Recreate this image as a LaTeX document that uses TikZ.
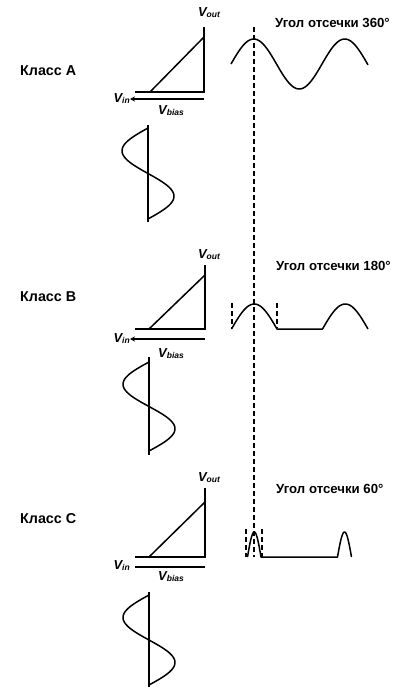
\documentclass[tikz,border=0pt]{standalone}
\usepackage{fontspec}
\setmainfont{Liberation Sans}
\usetikzlibrary{arrows.meta}

\newcommand{\vsub}[2]{#1\raisebox{-1pt}{\fontsize{8.5}{9}\selectfont #2}}

\tikzset{
  curve/.style={line width=1.5pt, line join=round},
  axis/.style={line width=1.5pt},
  marker/.style={line width=1.5pt, dash pattern=on 5pt off 3pt},
  vlabel/.style={font=\bfseries\itshape\fontsize{13}{13}\selectfont, inner sep=0pt},
  classlabel/.style={font=\bfseries\fontsize{14.3}{15}\selectfont, anchor=west, inner sep=0pt},
  anglelabel/.style={font=\bfseries\fontsize{13.2}{14}\selectfont, anchor=west, inner sep=0pt},
}

\begin{document}
\begin{tikzpicture}[x=1pt, y=-1pt, >=Stealth]
    % Параметры
    \def\amp{25}
    \def\period{91}
    \def\sAmp{26}

    \useasboundingbox (0,0) rectangle (405,699);

    % Класс A
    \node[classlabel] (clsA) at (20,71) {Класс A};
    \coordinate (A-top) at (204,27);
    \coordinate (A-org) at (204,92);
    \coordinate (A-left) at (135,92);
    \draw[axis] (A-top) -- (A-org) -- (A-left);
    \draw[axis] (150,92) -- (204,37);
    \node[vlabel] (A-vout) at (209,13) {\vsub{V}{out}};
    \node[vlabel, anchor=east] (A-vin) at (130,99) {\vsub{V}{in}};
    \draw[axis, -{Stealth[length=5pt, width=5pt]}] (204,99) -- (A-vin.east);
    \node[vlabel] (A-vbias) at (171,111) {\vsub{V}{bias}};
    \draw[axis] (148,125) -- (148,222);
    \draw[curve] plot[domain=128:219, samples=60] ({148-\sAmp*sin((\x-128)/\period*360)}, \x);
    \node[anglelabel] (angA) at (275,23) {Угол отсечки 360°};
    \draw[curve] plot[domain=231:368, samples=100] (\x, {64-\amp*sin((\x-231)/\period*360)});

    % Класс B
    \node[classlabel] (clsB) at (20,297) {Класс B};
    \coordinate (B-top) at (205,265);
    \coordinate (B-org) at (205,329);
    \coordinate (B-left) at (135,329);
    \draw[axis] (B-top) -- (B-org) -- (B-left);
    \draw[axis] (149,329) -- (205,275);
    \node[vlabel] (B-vout) at (209,255) {\vsub{V}{out}};
    \node[vlabel, anchor=east] (B-vin) at (130,339) {\vsub{V}{in}};
    \draw[axis, -{Stealth[length=5pt, width=5pt]}] (205,339) -- (B-vin.east);
    \node[vlabel] (B-vbias) at (171,354) {\vsub{V}{bias}};
    \draw[axis] (149,357) -- (149,455);
    \draw[curve] plot[domain=362:451, samples=60] ({149-\sAmp*sin((\x-362)/89*360)}, \x);
    \node[anglelabel] (angB) at (276,266) {Угол отсечки 180°};
    \draw[curve] plot[domain=231.5:277, samples=40] (\x, {329-\amp*sin((\x-231.5)/\period*360)})
        -- (322.5,329)
        -- plot[domain=322.5:368, samples=40] (\x, {329-\amp*sin((\x-322.5)/\period*360)});
    \draw[marker] (232,303) -- (232,328);
    \draw[marker] (277,303) -- (277,328);

    % Класс C
    \node[classlabel] (clsC) at (20,519) {Класс C};
    \coordinate (C-top) at (205,488);
    \coordinate (C-org) at (205,557);
    \coordinate (C-left) at (135,557);
    \draw[axis] (C-top) -- (C-org) -- (C-left);
    \draw[axis] (149,557) -- (205,502);
    \node[vlabel] (C-vout) at (209,478) {\vsub{V}{out}};
    \node[vlabel, anchor=east] (C-vin) at (130,566) {\vsub{V}{in}};
    \draw[axis] (205,567) -- (135,567);
    \node[vlabel] (C-vbias) at (171,577) {\vsub{V}{bias}};
    \draw[axis] (149,592) -- (149,687);
    \draw[curve] plot[domain=595:685, samples=60] ({149-\sAmp*sin((\x-595)/90*360)}, \x);
    \node[anglelabel] (angC) at (276,489) {Угол отсечки 60°};
    \draw[curve] plot[domain=247.5:261, samples=30] (\x, {557-\amp*sin((\x-247.5)/13.5*180)})
        -- (337.5,557)
        -- plot[domain=337.5:351.5, samples=30] (\x, {557-\amp*sin((\x-337.5)/14*180)});
    \draw[marker] (246,529) -- (246,557);
    \draw[marker] (262,529) -- (262,557);

    % Общая пунктирная линия
    \draw[marker] (254,27) -- (254,557);
\end{tikzpicture}
\end{document}
